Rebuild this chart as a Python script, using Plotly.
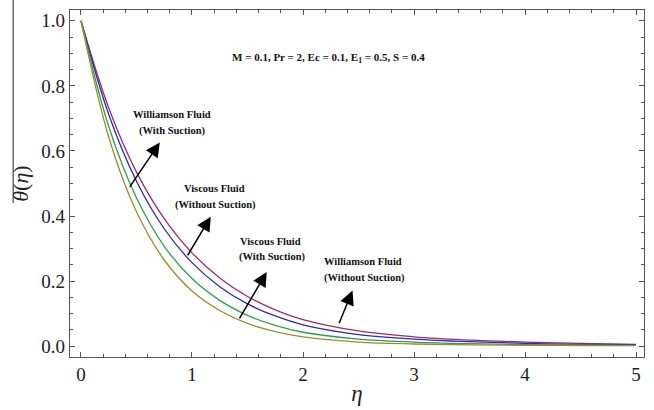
import plotly.graph_objects as go

eta = [0, 0.25, 0.5, 0.75, 1.0, 1.25, 1.5, 1.75, 2.0, 2.5, 3.0, 3.5, 4.0, 4.5, 5.0]
theta_williamson_suction = [1.0, 0.732, 0.535, 0.392, 0.287, 0.210, 0.153, 0.112, 0.082, 0.047, 0.029, 0.019, 0.013, 0.009, 0.006]
theta_viscous_no_suction = [1.0, 0.712, 0.507, 0.361, 0.257, 0.183, 0.130, 0.093, 0.066, 0.036, 0.022, 0.014, 0.009, 0.006, 0.005]
theta_viscous_suction = [1.0, 0.675, 0.456, 0.307, 0.208, 0.141, 0.095, 0.064, 0.043, 0.022, 0.013, 0.008, 0.005, 0.004, 0.003]
theta_williamson_no_suction = [1.0, 0.642, 0.413, 0.265, 0.170, 0.110, 0.070, 0.045, 0.029, 0.013, 0.007, 0.004, 0.003, 0.002, 0.002]

series = [
    (theta_williamson_suction, "#a32a68"),
    (theta_viscous_no_suction, "#2c2cb0"),
    (theta_viscous_suction, "#2e9e50"),
    (theta_williamson_no_suction, "#a08a2c"),
]

x_ticks = [0, 1, 2, 3, 4, 5]
y_ticks = [0.0, 0.2, 0.4, 0.6, 0.8, 1.0]
y_tick_labels = ["0.0", "0.2", "0.4", "0.6", "0.8", "1.0"]

fig = go.Figure()
for ys, col in series:
    fig.add_trace(go.Scatter(x=eta, y=ys, mode="lines", line=dict(color=col, width=1.3, shape="spline", smoothing=1.0),
                             showlegend=False, hoverinfo="skip"))

serif = "Liberation Serif"
axis_common = dict(showline=True, linecolor="#555", linewidth=1.2, mirror="ticks", ticks="inside",
                   ticklen=5, tickcolor="#555", showgrid=False, zeroline=False,
                   tickfont=dict(family=serif, size=19, color="#222"))

fig.update_layout(
    width=654, height=410,
    margin=dict(l=70, r=9, t=10, b=44),
    paper_bgcolor="white", plot_bgcolor="white",
    font=dict(family=serif, color="#222"),
    xaxis=dict(range=[-0.099, 5.072], tickvals=x_ticks,
               minor=dict(dtick=0.2, ticklen=3, tickcolor="#555", ticks="inside"),
               title=dict(text="<i>η</i>", font=dict(family=serif, size=23, color="#222"), standoff=0),
               **axis_common),
    yaxis=dict(range=[-0.033, 1.033], tickvals=y_ticks, ticktext=y_tick_labels,
               minor=dict(dtick=0.05, ticklen=3, tickcolor="#555", ticks="inside"),
               title=dict(text="<i>θ</i>(<i>η</i>)", font=dict(family=serif, size=22, color="#222"), standoff=6),
               **axis_common),
)

bold = dict(family=serif, size=10.5, color="#111")
labels = [
    ("<b>Williamson Fluid</b>", 0.818, 0.713),
    ("<b>(With Suction)</b>", 0.827, 0.662),
    ("<b>Viscous Fluid</b>", 1.205, 0.485),
    ("<b>(Without Suction)</b>", 1.214, 0.434),
    ("<b>Viscous Fluid</b>", 1.709, 0.323),
    ("<b>(With Suction)</b>", 1.727, 0.275),
    ("<b>Williamson Fluid</b>", 2.545, 0.260),
    ("<b>(Without Suction)</b>", 2.554, 0.210),
]
for t, x, y in labels:
    fig.add_annotation(text=t, x=x, y=y, xref="x", yref="y", showarrow=False, font=bold)

fig.add_annotation(text="<b>M = 0.1, Pr = 2, Ec = 0.1, E<sub>1</sub> = 0.5, S = 0.4</b>", x=2.226, y=0.886,
                   xref="x", yref="y", showarrow=False, font=dict(family=serif, size=11, color="#111"))

arrows = [
    ((0.43, 0.485), (0.71, 0.626)),
    ((0.953, 0.275), (1.169, 0.398)),
    ((1.42, 0.081), (1.673, 0.228)),
    ((2.32, 0.066), (2.446, 0.171)),
]
for (tx, ty), (hx, hy) in arrows:
    fig.add_annotation(x=hx, y=hy, ax=tx, ay=ty, xref="x", yref="y", axref="x", ayref="y",
                       text="", showarrow=True, arrowhead=2, arrowsize=1.9, arrowwidth=1.5, arrowcolor="black")

fig.add_shape(type="line", xref="paper", yref="paper", x0=-0.099, x1=-0.099, y0=0.444, y1=1.03,
              line=dict(color="#444", width=1.2))

fig.write_html("out.html")
